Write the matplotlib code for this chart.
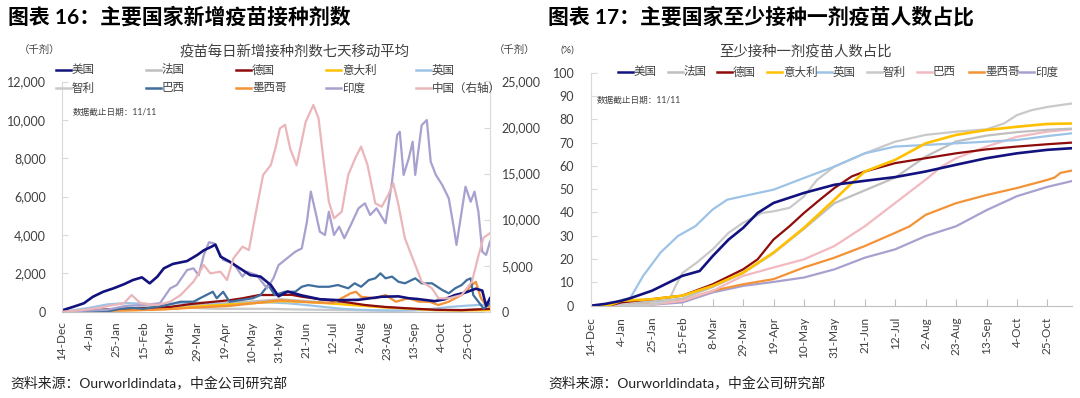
import matplotlib.pyplot as plt
from matplotlib.lines import Line2D
from matplotlib.ticker import FuncFormatter

plt.rcParams['font.family'] = ['Lato', 'Noto Sans CJK SC']

# x 轴: 距 2020-12-14 的天数
tick_days = [0, 21, 42, 63, 84, 105, 126, 147, 168, 189, 210, 231, 252, 273, 294, 315]
tick_labels = ["14-Dec", "4-Jan", "25-Jan", "15-Feb", "8-Mar", "29-Mar", "19-Apr", "10-May",
               "31-May", "21-Jun", "12-Jul", "2-Aug", "23-Aug", "13-Sep", "4-Oct", "25-Oct"]

# ---------------- 图表16 数据 (千剂, 七天移动平均) ----------------
us_days = [0, 1, 9, 17, 24, 32, 40, 48, 55, 62, 68, 74, 79, 86, 97, 105, 110, 116, 119, 123,
           130, 138, 146, 154, 162, 168, 175, 186, 200, 215, 230, 248, 261, 269, 276, 289, 297,
           305, 313, 321, 326, 329, 332]
us_vals = [0, 90, 260, 440, 780, 1040, 1220, 1430, 1650, 1790, 1480, 1830, 2260, 2490, 2640,
           2960, 3200, 3390, 3500, 2870, 2610, 2260, 1910, 1830, 1390, 800, 1050, 850, 650, 600,
           620, 780, 800, 700, 660, 550, 650, 870, 1000, 1200, 1100, 300, 700]

fr_days = [0, 14, 30, 50, 70, 90, 110, 130, 150, 170, 190, 210, 230, 250, 270, 290, 310, 332]
fr_vals = [0, 30, 100, 150, 200, 280, 400, 450, 550, 650, 550, 450, 350, 250, 150, 80, 80, 150]

de_days = [0, 14, 30, 50, 70, 84, 100, 115, 130, 140, 153, 165, 178, 186, 200, 220, 235, 250,
           270, 290, 310, 332]
de_vals = [0, 30, 100, 150, 200, 250, 400, 500, 600, 700, 870, 870, 880, 780, 650, 500, 350,
           250, 170, 100, 80, 150]

it_days = [0, 14, 30, 50, 70, 90, 110, 130, 150, 170, 190, 210, 230, 250, 270, 290, 310, 332]
it_vals = [0, 40, 80, 80, 100, 180, 300, 380, 450, 550, 500, 420, 320, 220, 150, 80, 60, 80]

uk_days = [0, 7, 21, 35, 49, 63, 77, 91, 105, 119, 133, 147, 161, 175, 189, 203, 217, 231, 245,
           259, 273, 287, 301, 315, 332]
uk_vals = [0, 60, 200, 380, 450, 420, 350, 450, 480, 420, 400, 450, 480, 440, 350, 250, 150, 100,
           70, 60, 80, 150, 250, 320, 380]

cl_days = [0, 10, 30, 50, 60, 70, 84, 100, 120, 140, 160, 180, 200, 220, 240, 260, 280, 300, 320, 332]
cl_vals = [0, 0, 10, 100, 250, 280, 250, 200, 150, 150, 150, 120, 100, 80, 60, 50, 80, 100, 100, 90]

br_days = [0, 34, 45, 55, 63, 79, 92, 102, 107, 112, 117, 120, 125, 130, 138, 148, 154, 160, 165,
           173, 181, 186, 191, 199, 207, 214, 222, 227, 232, 238, 243, 247, 251, 256, 261, 266,
           274, 279, 287, 295, 300, 305, 310, 314, 317, 319, 323, 327, 332]
br_vals = [0, 0, 150, 200, 150, 310, 520, 520, 700, 870, 1040, 700, 1040, 520, 600, 700, 870,
           1390, 870, 1040, 1040, 1300, 1390, 1300, 1300, 1390, 1220, 1480, 1300, 1650, 1740,
           2000, 1740, 1830, 1560, 1480, 1740, 1480, 1480, 1130, 960, 1220, 1390, 1650, 1740,
           870, 520, 160, 430]

mx_days = [0, 14, 40, 60, 80, 100, 130, 150, 170, 190, 210, 224, 228, 232, 243, 251, 259, 269,
           277, 285, 292, 300, 310, 318, 321, 325, 329, 332]
mx_vals = [0, 10, 50, 80, 120, 200, 300, 450, 600, 500, 450, 960, 1040, 780, 700, 870, 520, 700,
           520, 520, 350, 520, 870, 1390, 1560, 700, 350, 260]

in_days = [0, 35, 49, 63, 70, 76, 84, 89, 97, 102, 106, 110, 114, 118, 125, 133, 140, 143, 151,
           159, 164, 168, 173, 181, 186, 190, 193, 196, 200, 204, 207, 211, 215, 219, 224, 230,
           235, 239, 244, 251, 256, 260, 262, 265, 269, 272, 274, 279, 283, 286, 290, 295, 300,
           304, 306, 310, 313, 317, 320, 323, 326, 329, 332]
in_vals = [0, 100, 300, 350, 400, 440, 1220, 1390, 2170, 2260, 1900, 2960, 3620, 3560, 2700,
           2520, 1830, 2090, 1910, 1220, 1740, 2430, 2700, 3130, 3300, 4690, 6260, 5390, 4170,
           4000, 5210, 4000, 4430, 3830, 4520, 5390, 5650, 5040, 5390, 4610, 6780, 9210, 9380,
           7130, 8000, 8860, 7130, 9730, 9990, 7820, 7130, 6600, 5910, 4350, 3480, 5210, 6520,
           5730, 6260, 5210, 3130, 2960, 3650]

cn_days = [0, 14, 28, 40, 48, 54, 61, 74, 84, 92, 102, 110, 115, 123, 128, 133, 140, 145, 151,
           156, 162, 166, 169, 173, 177, 182, 189, 195, 199, 203, 207, 211, 217, 222, 228, 232,
           237, 243, 248, 253, 257, 261, 266, 272, 279, 287, 292, 300, 310, 318, 323, 327, 332]
cn_vals = [0, 150, 400, 730, 910, 1810, 910, 730, 1090, 1810, 3260, 5070, 4170, 4340, 3440,
           5800, 7060, 6700, 11230, 14850, 15930, 18000, 19900, 20300, 17700, 15900, 20600,
           22450, 21000, 16290, 11950, 10140, 10860, 14850, 16830, 17920, 15930, 11770, 11400,
           12670, 13940, 11590, 7970, 5800, 3260, 2540, 1450, 1450, 1810, 3260, 6060, 8030, 8530]

# ---------------- 图表17 数据 (%) ----------------
us2_days = [0, 10, 21, 27, 42, 63, 75, 84, 95, 105, 115, 126, 147, 168, 189, 210, 231, 252, 273, 294, 315, 332]
us2_vals = [0, 0.8, 2.1, 3.2, 6.4, 12.8, 14.9, 21.3, 28.4, 33.4, 39.8, 44.1, 48.4, 51.9, 53.6,
            55.2, 57.6, 60.5, 63.3, 65.4, 66.9, 67.6]

fr2_days = [0, 14, 21, 42, 63, 84, 105, 126, 147, 168, 189, 210, 231, 252, 273, 294, 315, 332]
fr2_vals = [0, 0, 0.3, 1.8, 3, 8, 14, 22.5, 33, 44, 49.5, 55, 64, 70.5, 73, 74.5, 75.5, 76]

de2_days = [0, 14, 21, 42, 63, 84, 105, 115, 126, 137, 147, 158, 168, 180, 189, 210, 231, 252, 273, 294, 315, 332]
de2_vals = [0, 0.3, 1.4, 2.8, 4.3, 9.2, 15.6, 19.9, 28.4, 34.1, 39.8, 45.5, 50.5, 55.5, 57.6,
            61.2, 63.3, 65.4, 67.1, 68.3, 69.3, 70]

it2_days = [0, 14, 21, 42, 63, 84, 105, 126, 147, 168, 180, 189, 210, 231, 252, 273, 294, 315, 332]
it2_vals = [0, 0.5, 2.1, 2.8, 4.3, 8.5, 14.2, 22.8, 33.4, 45.5, 52.6, 57.6, 62.6, 69.7, 73.3,
            75.4, 76.8, 78, 78.2]

uk2_days = [0, 12, 21, 27, 36, 48, 60, 72, 84, 94, 105, 126, 147, 168, 189, 210, 231, 252, 273, 294, 315, 332]
uk2_vals = [0, 0.3, 2.5, 3.2, 12.8, 22.8, 29.9, 34.1, 41.3, 45.5, 47, 49.8, 54.8, 59.7, 65.4,
            68.3, 69, 69.7, 70.4, 71.1, 72.8, 74]

cl2_days = [0, 10, 40, 50, 54, 58, 63, 73, 84, 95, 105, 118, 126, 137, 147, 156, 168, 189, 210,
            231, 252, 273, 285, 294, 304, 315, 332]
cl2_vals = [0, 0, 0.5, 1.5, 2.5, 8, 14, 18.5, 24.2, 31.3, 35.6, 39.8, 40.5, 42, 46.9, 54, 59.7,
            65.4, 70.4, 73.3, 74.7, 75.7, 78.2, 81.8, 83.9, 85.3, 86.8]

br2_days = [0, 35, 63, 84, 105, 126, 147, 168, 189, 210, 231, 242, 252, 273, 294, 315, 332]
br2_vals = [0, 0, 2.1, 6.4, 12.8, 16.4, 19.9, 25.6, 34.1, 44.1, 54.1, 59.7, 63.3, 68.3, 72.5, 74.7, 75.7]

mx2_days = [0, 14, 42, 63, 84, 105, 126, 147, 168, 189, 210, 220, 231, 252, 273, 294, 315, 320, 324, 332]
mx2_vals = [0, 0, 0.7, 2.1, 6.4, 9.2, 11.4, 16.4, 20.6, 25.6, 31.3, 34.1, 39, 44, 47.5, 50.5,
            54, 55, 57, 58]

in2_days = [0, 33, 63, 84, 105, 126, 147, 168, 189, 210, 231, 252, 273, 294, 315, 332]
in2_vals = [0, 0, 1.4, 5.7, 8.5, 10.2, 12.1, 15.6, 20.6, 24.2, 29.9, 34.1, 41, 47, 51, 53.5]

# 颜色
c_us = '#12127F'
c_fr = '#BFBFBF'
c_de = '#8E0C0C'
c_it = '#FFC000'
c_uk = '#9DC3E6'
c_cl = '#C9C9C9'
c_br = '#3F6E9C'
c_br2 = '#F2B9C1'
c_mx = '#F39237'
c_in = '#A8A0CE'
c_cn = '#EBB6BA'
txt = '#404040'

W, H = 1080, 398
fig = plt.figure(figsize=(W / 100, H / 100), dpi=100)


def px(x, y):
    return x / W, 1 - y / H


def legend_item(x, y, color, label):
    x0, y0 = px(x, y)
    x1, _ = px(x + 15, y)
    fig.add_artist(Line2D([x0, x1], [y0, y0], color=color, lw=1.8, transform=fig.transFigure))
    fig.text((x + 16) / W, y0, label, fontsize=8.3, color=txt, va='center', ha='left')


# ================= 左图 =================
ax = fig.add_axes([62 / W, 1 - 311.7 / H, 428 / W, 230.2 / H])
ax2 = ax.twinx()

lw = 1.6
ax.plot(fr_days, fr_vals, color=c_fr, lw=lw)
ax.plot(cl_days, cl_vals, color=c_cl, lw=lw)
ax.plot(uk_days, uk_vals, color=c_uk, lw=lw)
ax.plot(it_days, it_vals, color=c_it, lw=lw)
ax.plot(de_days, de_vals, color=c_de, lw=lw)
ax.plot(mx_days, mx_vals, color=c_mx, lw=lw)
ax.plot(br_days, br_vals, color=c_br, lw=lw)
ax.plot(in_days, in_vals, color=c_in, lw=lw)
ax.plot(us_days, us_vals, color=c_us, lw=1.9)
ax2.plot(cn_days, cn_vals, color=c_cn, lw=lw)

ax.set_xlim(0, 332)
ax.set_ylim(0, 12000)
ax2.set_ylim(0, 25000)
ax.set_yticks(range(0, 12001, 2000))
ax2.set_yticks(range(0, 25001, 5000))
fmt = FuncFormatter(lambda v, p: f'{v:,.0f}')
ax.yaxis.set_major_formatter(fmt)
ax2.yaxis.set_major_formatter(fmt)
ax.set_xticks(tick_days)
ax.set_xticklabels(tick_labels, rotation=90)
ax.tick_params(axis='x', length=0, pad=7, labelsize=8.5, labelcolor=txt)
ax.tick_params(axis='y', direction='in', length=4, width=0.8, color='#D9D9D9', pad=11.5,
               labelsize=9, labelcolor=txt)
ax2.tick_params(axis='y', direction='in', length=4, width=0.8, color='#D9D9D9', pad=8.5,
                labelsize=9, labelcolor=txt)
for s in ['top', 'right']:
    ax.spines[s].set_visible(False)
for s in ['top', 'left', 'bottom']:
    ax2.spines[s].set_visible(False)
ax.spines['left'].set_color('#D9D9D9')
ax.spines['bottom'].set_color('#BFBFBF')
ax2.spines['right'].set_color('#D9D9D9')

fig.text(8 / W, 1 - 17 / H, '图表 16：主要国家新增疫苗接种剂数', fontsize=15, fontweight='bold',
         va='center', ha='left', color='black')
fig.text(295 / W, 1 - 51 / H, '疫苗每日新增接种剂数七天移动平均', fontsize=10.4, color=txt,
         va='center', ha='center')
fig.text(40 / W, 1 - 50 / H, '（千剂）', fontsize=7.5, color=txt, va='center', ha='center')
fig.text(515 / W, 1 - 50 / H, '（千剂）', fontsize=7.5, color=txt, va='center', ha='center')
fig.text(73 / W, 1 - 112 / H, '数据截止日期：11/11', fontsize=6.2, color=txt, va='center', ha='left')

left_leg = [('美国', c_us), ('法国', c_fr), ('德国', c_de), ('意大利', c_it), ('英国', c_uk),
            ('智利', c_cl), ('巴西', c_br), ('墨西哥', c_mx), ('印度', c_in), ('中国（右轴）', c_cn)]
for i, (lab, col) in enumerate(left_leg):
    legend_item(56 + 90 * (i % 5), 70 if i < 5 else 88, col, lab)

# ================= 右图 =================
bx = fig.add_axes([591 / W, 1 - 305.7 / H, 481 / W, 233 / H])
bx.plot(in2_days, in2_vals, color=c_in, lw=lw)
bx.plot(mx2_days, mx2_vals, color=c_mx, lw=lw)
bx.plot(br2_days, br2_vals, color=c_br2, lw=lw)
bx.plot(fr2_days, fr2_vals, color=c_fr, lw=lw)
bx.plot(cl2_days, cl2_vals, color=c_cl, lw=lw)
bx.plot(uk2_days, uk2_vals, color=c_uk, lw=lw)
bx.plot(de2_days, de2_vals, color=c_de, lw=lw)
bx.plot(it2_days, it2_vals, color=c_it, lw=1.9)
bx.plot(us2_days, us2_vals, color=c_us, lw=1.9)

bx.set_xlim(0, 332)
bx.set_ylim(0, 100)
bx.set_yticks(range(0, 101, 10))
bx.set_xticks(tick_days)
bx.set_xticklabels(tick_labels, rotation=90)
bx.tick_params(axis='x', direction='in', length=5, width=0.8, color='#BFBFBF', pad=8,
               labelsize=8.5, labelcolor=txt)
bx.tick_params(axis='y', direction='in', length=4, width=0.8, color='#D9D9D9', pad=12,
               labelsize=9, labelcolor=txt)
for s in ['top', 'right']:
    bx.spines[s].set_visible(False)
bx.spines['left'].set_color('#D9D9D9')
bx.spines['bottom'].set_color('#BFBFBF')

fig.text(548 / W, 1 - 17 / H, '图表 17：主要国家至少接种一剂疫苗人数占比', fontsize=15,
         fontweight='bold', va='center', ha='left', color='black')
fig.text(806 / W, 1 - 51 / H, '至少接种一剂疫苗人数占比', fontsize=10.4, color=txt,
         va='center', ha='center')
fig.text(567 / W, 1 - 50 / H, '(%)', fontsize=7.5, color=txt, va='center', ha='center')
fig.text(597 / W, 1 - 100 / H, '数据截止日期：11/11', fontsize=6.2, color=txt, va='center', ha='left')

right_leg = [('美国', c_us), ('法国', c_fr), ('德国', c_de), ('意大利', c_it), ('英国', c_uk),
             ('智利', c_cl), ('巴西', c_br2), ('墨西哥', c_mx), ('印度', c_in)]
right_x = [618, 668, 717, 767, 817, 867, 917, 969, 1019]
for (lab, col), xx in zip(right_leg, right_x):
    legend_item(xx, 72, col, lab)

# 资料来源
fig.text(10 / W, 1 - 383 / H, '资料来源：Ourworldindata，中金公司研究部', fontsize=10,
         color='#222222', va='center', ha='left')
fig.text(548 / W, 1 - 383 / H, '资料来源：Ourworldindata，中金公司研究部', fontsize=10,
         color='#222222', va='center', ha='left')

fig.savefig('out.png', dpi=100)
